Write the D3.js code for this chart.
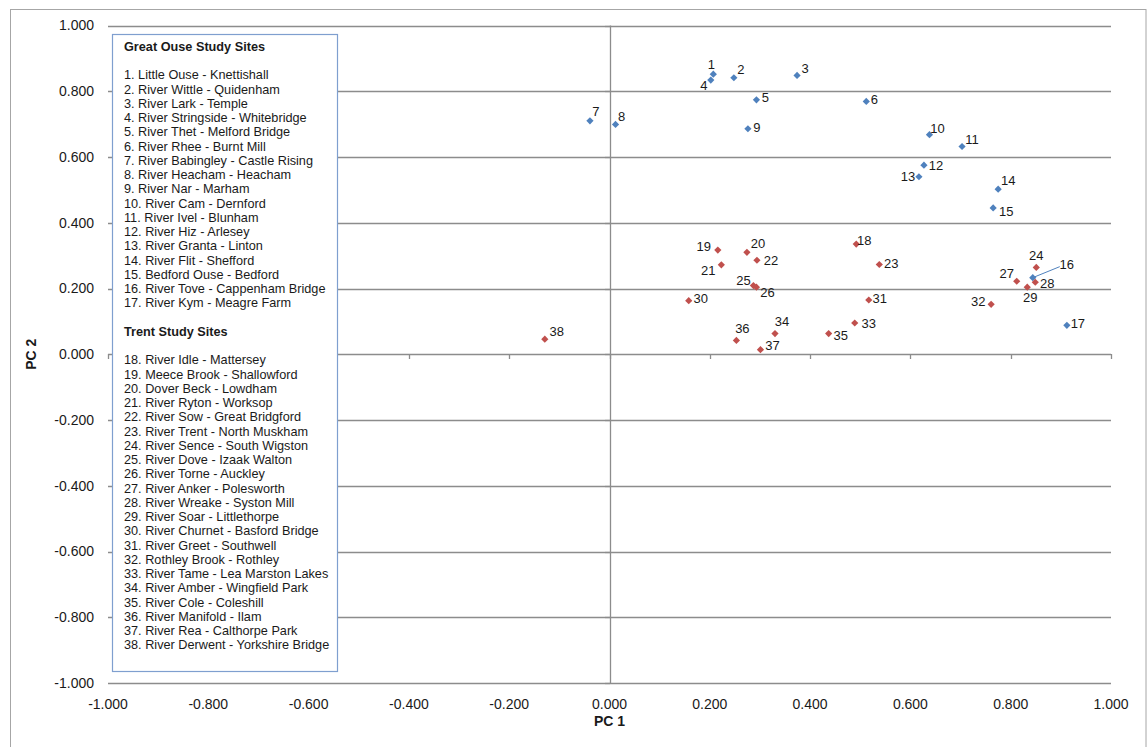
<!DOCTYPE html>
<html>
<head>
<meta charset="utf-8">
<script src="https://cdn.jsdelivr.net/npm/d3@7"></script>
<style>
  html, body { margin: 0; padding: 0; background: #fff; }
  svg { display: block; font-family: "Liberation Sans", Arial, sans-serif; }
</style>
</head>
<body>
<svg id="chart" width="1147" height="747"></svg>
<script>
// ---- Data ----
const greatOuseIds = [1,2,3,4,5,6,7,8,9,10,11,12,13,14,15,16,17];
const greatOusePC1 = [0.207,0.248,0.374,0.202,0.293,0.512,-0.039,0.012,0.276,0.638,0.703,0.627,0.617,0.775,0.765,0.844,0.912];
const greatOusePC2 = [0.852,0.841,0.848,0.834,0.774,0.769,0.710,0.699,0.686,0.668,0.632,0.575,0.540,0.502,0.445,0.233,0.088];

const trentIds = [18,19,20,21,22,23,24,25,26,27,28,29,30,31,32,33,34,35,36,37,38];
const trentPC1 = [0.492,0.216,0.274,0.223,0.294,0.538,0.851,0.287,0.293,0.812,0.849,0.833,0.158,0.517,0.761,0.489,0.330,0.437,0.253,0.301,-0.129];
const trentPC2 = [0.335,0.317,0.310,0.272,0.286,0.273,0.264,0.209,0.204,0.222,0.219,0.204,0.163,0.165,0.152,0.095,0.063,0.063,0.042,0.014,0.046];

const greatOuseNames = [
  "Little Ouse - Knettishall","River Wittle - Quidenham","River Lark - Temple",
  "River Stringside - Whitebridge","River Thet - Melford Bridge","River Rhee - Burnt Mill",
  "River Babingley - Castle Rising","River Heacham - Heacham","River Nar - Marham",
  "River Cam - Dernford","River Ivel - Blunham","River Hiz - Arlesey",
  "River Granta - Linton","River Flit - Shefford","Bedford Ouse - Bedford",
  "River Tove - Cappenham Bridge","River Kym - Meagre Farm"];
const trentNames = [
  "River Idle - Mattersey","Meece Brook - Shallowford","Dover Beck - Lowdham",
  "River Ryton - Worksop","River Sow - Great Bridgford","River Trent - North Muskham",
  "River Sence - South Wigston","River Dove - Izaak Walton","River Torne - Auckley",
  "River Anker - Polesworth","River Wreake - Syston Mill","River Soar - Littlethorpe",
  "River Churnet - Basford Bridge","River Greet - Southwell","Rothley Brook - Rothley",
  "River Tame - Lea Marston Lakes","River Amber - Wingfield Park","River Cole - Coleshill",
  "River Manifold - Ilam","River Rea - Calthorpe Park","River Derwent - Yorkshire Bridge"];

const xTicks = [-1.0,-0.8,-0.6,-0.4,-0.2,0.0,0.2,0.4,0.6,0.8,1.0];
const yTicks = [-1.0,-0.8,-0.6,-0.4,-0.2,0.0,0.2,0.4,0.6,0.8,1.0];

const greatOuseTitle = "Great Ouse Study Sites";
const trentTitle = "Trent Study Sites";
const xTitle = "PC 1";
const yTitle = "PC 2";

// ---- Label placement (pixel offsets of label centre from marker) ----
const labelOffset = {
  1:[-2,-10], 2:[7,-8], 3:[8,-7], 4:[-7,5], 5:[9,-2], 6:[8,-2], 7:[6,-9], 8:[6,-8], 9:[9,-1],
  10:[8,-6], 11:[10,-7], 12:[12,0], 13:[-11,0], 14:[10,-9], 15:[13,3], 16:[34,-13], 17:[11,-2],
  18:[8,-4], 19:[-14,-4], 20:[11,-9], 21:[-13,6], 22:[14,0], 23:[12,-1], 24:[0,-12],
  25:[-10,-5], 26:[11,5], 27:[-10,-8], 28:[12,1], 29:[3,10], 30:[12,-2], 31:[11,-2],
  32:[-13,-3], 33:[14,0], 34:[7,-12], 35:[12,2], 36:[6,-12], 37:[12,-4], 38:[12,-8]
};
const leaderIds = [16];

// ---- Build ----
const svg = d3.select("#chart");
const W = 1147, H = 747;

// chart border
svg.append("rect").attr("x",10.5).attr("y",9.5).attr("width",W-11.5).attr("height",H)
  .attr("fill","#fff").attr("stroke","#a6a6a6").attr("stroke-width",1);

const x = d3.scaleLinear().domain([-1,1]).range([108,1111]);
const y = d3.scaleLinear().domain([-1,1]).range([683,25.5]);

const gridColor = "#8c8c8c";

// horizontal gridlines
svg.append("g").selectAll("line").data(yTicks).join("line")
  .attr("x1", x(-1)).attr("x2", x(1))
  .attr("y1", d => Math.round(y(d))+0.5).attr("y2", d => Math.round(y(d))+0.5)
  .attr("stroke", gridColor).attr("stroke-width",1.3);

// vertical axis at x = 0
svg.append("line")
  .attr("x1", Math.round(x(0))+0.5).attr("x2", Math.round(x(0))+0.5)
  .attr("y1", y(1)).attr("y2", y(-1))
  .attr("stroke", gridColor).attr("stroke-width",1.3);

// x-axis tick marks along y = 0
svg.append("g").selectAll("line").data(xTicks).join("line")
  .attr("x1", d => Math.round(x(d))+0.5).attr("x2", d => Math.round(x(d))+0.5)
  .attr("y1", Math.round(y(0))).attr("y2", Math.round(y(0))+5)
  .attr("stroke", gridColor).attr("stroke-width",1.3);
// y-axis tick marks along x = 0
svg.append("g").selectAll("line").data(yTicks).join("line")
  .attr("x1", Math.round(x(0))-5).attr("x2", Math.round(x(0)))
  .attr("y1", d => Math.round(y(d))+0.5).attr("y2", d => Math.round(y(d))+0.5)
  .attr("stroke", gridColor).attr("stroke-width",1.3);

const fmt = d3.formatLocale({decimal: ".", thousands: ",", grouping: [3], currency: ["", ""], minus: "-"}).format(".3f");
// y tick labels
svg.append("g").selectAll("text").data(yTicks).join("text")
  .attr("x", 94).attr("y", d => y(d)).attr("dy","0.35em")
  .attr("text-anchor","end").attr("font-size",14).attr("fill","#1a1a1a")
  .text(d => fmt(d));
// x tick labels
svg.append("g").selectAll("text").data(xTicks).join("text")
  .attr("x", d => x(d)).attr("y", 704).attr("dy","0.35em")
  .attr("text-anchor","middle").attr("font-size",14).attr("fill","#1a1a1a")
  .text(d => fmt(d));

// axis titles
svg.append("text").attr("x", x(0)).attr("y", 721).attr("dy","0.35em")
  .attr("text-anchor","middle").attr("font-size",14).attr("font-weight","bold").attr("fill","#1a1a1a")
  .text(xTitle);
svg.append("text").attr("transform", `translate(31,${y(0)}) rotate(-90)`).attr("dy","0.35em")
  .attr("text-anchor","middle").attr("font-size",14).attr("font-weight","bold").attr("fill","#1a1a1a")
  .text(yTitle);

// legend box
const lg = svg.append("g");
lg.append("rect").attr("x",112.5).attr("y",34.5).attr("width",225).attr("height",637)
  .attr("fill","#fff").attr("stroke","#7f9fcf").attr("stroke-width",1.2);
const lx = 124, step = 14.25, lfs = 12.7;
lg.append("text").attr("x",lx).attr("y",46.5).attr("dy","0.35em")
  .attr("font-size",lfs).attr("font-weight","bold").attr("fill","#1a1a1a").text(greatOuseTitle);
lg.append("g").selectAll("text").data(greatOuseNames).join("text")
  .attr("x",lx).attr("y",(d,i)=>75+i*step).attr("dy","0.35em")
  .attr("font-size",lfs).attr("fill","#1a1a1a")
  .text((d,i)=>`${greatOuseIds[i]}. ${d}`);
lg.append("text").attr("x",lx).attr("y",331.5).attr("dy","0.35em")
  .attr("font-size",lfs).attr("font-weight","bold").attr("fill","#1a1a1a").text(trentTitle);
lg.append("g").selectAll("text").data(trentNames).join("text")
  .attr("x",lx).attr("y",(d,i)=>360+i*step).attr("dy","0.35em")
  .attr("font-size",lfs).attr("fill","#1a1a1a")
  .text((d,i)=>`${trentIds[i]}. ${d}`);

// points
const series = [
  {ids: greatOuseIds, xs: greatOusePC1, ys: greatOusePC2, color: "#4f81bd"},
  {ids: trentIds, xs: trentPC1, ys: trentPC2, color: "#c0504d"}
];
const r = 3.6;
const diamondPath = `M0,${-r}L${r},0L0,${r}L${-r},0Z`;

series.forEach(s => {
  const pts = s.ids.map((id,i)=>({id, px: x(s.xs[i]), py: y(s.ys[i])}));
  const g = svg.append("g");
  // leader lines
  g.selectAll("line.leader").data(pts.filter(p => leaderIds.includes(p.id))).join("line")
    .attr("x1", p=>p.px).attr("y1", p=>p.py)
    .attr("x2", p=>p.px + labelOffset[p.id][0] - 7).attr("y2", p=>p.py + labelOffset[p.id][1] + 2)
    .attr("stroke","#4f81bd").attr("stroke-width",1);
  g.selectAll("path").data(pts).join("path")
    .attr("d", diamondPath)
    .attr("transform", p=>`translate(${p.px},${p.py})`)
    .attr("fill", s.color);
  g.selectAll("text").data(pts).join("text")
    .attr("x", p=>p.px + labelOffset[p.id][0])
    .attr("y", p=>p.py + labelOffset[p.id][1]).attr("dy","0.35em")
    .attr("text-anchor","middle").attr("font-size",13).attr("fill","#1a1a1a")
    .text(p=>p.id);
});
</script>
</body>
</html>
